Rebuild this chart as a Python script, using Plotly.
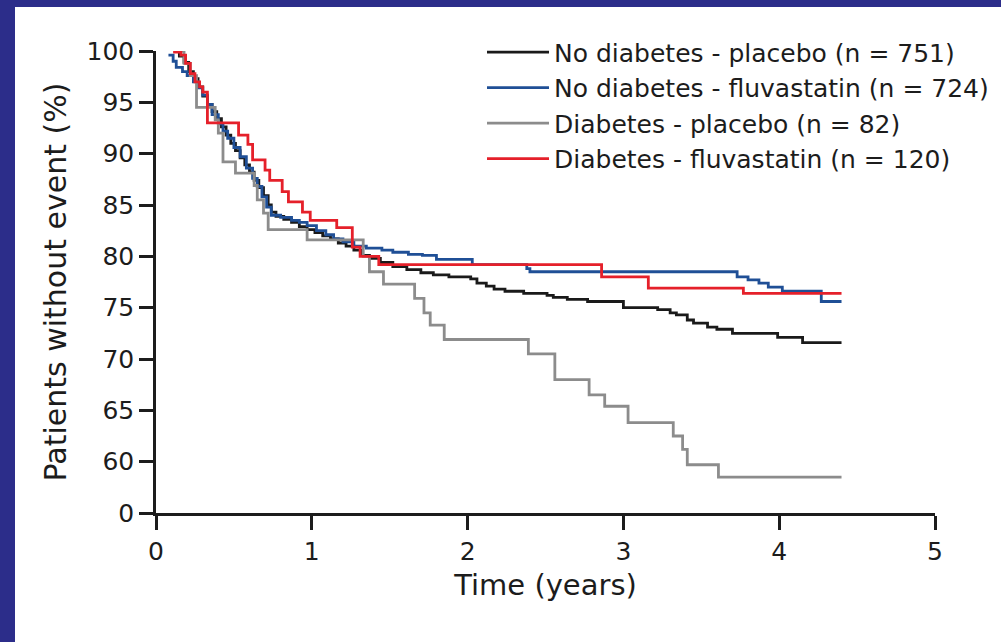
import plotly.graph_objects as go

# Kaplan-Meier estimates: time (years) and % of patients without event
nodm_placebo_t = [0.12, 0.15, 0.18, 0.21, 0.24, 0.27, 0.30, 0.33, 0.36, 0.39, 0.42, 0.45,
                  0.48, 0.51, 0.54, 0.57, 0.60, 0.63, 0.66, 0.69, 0.72, 0.74, 0.77, 0.82,
                  0.87, 0.92, 0.97, 1.02, 1.07, 1.12, 1.17, 1.22, 1.27, 1.32, 1.37, 1.44,
                  1.52, 1.61, 1.70, 1.78, 1.88, 2.02, 2.06, 2.12, 2.17, 2.24, 2.36, 2.51,
                  2.55, 2.64, 2.77, 3.00, 3.22, 3.30, 3.34, 3.41, 3.45, 3.54, 3.60, 3.70,
                  3.99, 4.15, 4.40]
nodm_placebo_s = [100.0, 99.5, 98.9, 98.0, 97.3, 96.5, 95.6, 94.8, 94.1, 93.4, 92.6, 91.8,
                  91.0, 90.3, 89.6, 88.9, 88.2, 87.4, 86.7, 85.9, 85.0, 84.3, 83.9, 83.6,
                  83.3, 82.9, 82.6, 82.3, 82.0, 81.7, 81.3, 81.0, 80.6, 80.1, 79.8, 79.4,
                  79.0, 78.7, 78.4, 78.2, 78.0, 77.8, 77.4, 77.1, 76.8, 76.6, 76.4, 76.2,
                  76.0, 75.8, 75.6, 75.0, 74.8, 74.5, 74.3, 73.8, 73.5, 73.1, 72.9, 72.5,
                  72.1, 71.6, 71.6]

nodm_fluva_t = [0.08, 0.11, 0.13, 0.17, 0.20, 0.24, 0.27, 0.30, 0.33, 0.36, 0.40, 0.43,
                0.46, 0.50, 0.54, 0.58, 0.62, 0.65, 0.68, 0.71, 0.74, 0.80, 0.87, 0.92,
                0.97, 1.03, 1.09, 1.14, 1.20, 1.27, 1.35, 1.45, 1.52, 1.62, 1.71, 1.80,
                2.03, 2.38, 2.40, 3.73, 3.80, 3.87, 3.93, 4.02, 4.27, 4.40]
nodm_fluva_s = [99.6, 99.0, 98.4, 98.0, 97.6, 97.0, 96.4, 95.7, 94.8, 93.8, 92.9, 92.2,
                91.5, 90.6, 89.7, 88.6, 87.6, 86.8, 85.8, 84.8, 84.0, 83.8, 83.5, 83.3,
                83.0, 82.5, 82.1, 81.7, 81.4, 81.0, 80.8, 80.6, 80.4, 80.2, 80.1, 79.7,
                79.2, 78.8, 78.5, 78.0, 77.7, 77.4, 77.0, 76.6, 75.6, 75.6]

dm_placebo_t = [0.12, 0.18, 0.22, 0.26, 0.38, 0.40, 0.43, 0.51, 0.63, 0.65, 0.69, 0.72,
                0.97, 1.33, 1.37, 1.46, 1.66, 1.72, 1.76, 1.85, 2.39, 2.56, 2.78, 2.88,
                3.03, 3.32, 3.38, 3.41, 3.61, 4.40]
dm_placebo_s = [100.0, 98.8, 97.6, 94.5, 93.3, 92.0, 89.2, 88.1, 86.9, 85.5, 84.2, 82.6,
                81.6, 80.0, 78.5, 77.3, 75.9, 74.5, 73.3, 71.9, 70.5, 68.0, 66.5, 65.4,
                63.8, 62.5, 61.2, 59.7, 58.5, 58.5]

dm_fluva_t = [0.11, 0.16, 0.19, 0.22, 0.25, 0.28, 0.30, 0.33, 0.53, 0.59, 0.62, 0.70,
              0.73, 0.81, 0.85, 0.94, 0.99, 1.16, 1.26, 1.31, 1.43, 2.86, 3.16, 3.77, 4.40]
dm_fluva_s = [99.9, 99.6, 98.8, 97.8, 97.0, 96.5, 96.0, 93.0, 91.8, 90.9, 89.4, 88.4,
              87.4, 86.3, 85.3, 84.3, 83.5, 82.8, 80.9, 80.0, 79.2, 78.0, 76.9, 76.4, 76.4]

series_names = ["No diabetes - placebo (n = 751)",
                "No diabetes - fluvastatin (n = 724)",
                "Diabetes - placebo (n = 82)",
                "Diabetes - fluvastatin (n = 120)"]
series_colors = ["#1a1a1a", "#1f4f96", "#8c8c8c", "#e5202a"]

# y axis is broken: the bottom tick (value 55 on the scale) is labelled 0
y_tickvals = [55, 60, 65, 70, 75, 80, 85, 90, 95, 100]
y_ticktext = ["0", "60", "65", "70", "75", "80", "85", "90", "95", "100"]
x_tickvals = [0, 1, 2, 3, 4, 5]

FONT = "DejaVu Sans"
INK = "#1c1c1c"

fig = go.Figure()
for t, s, name, color in zip(
        [nodm_placebo_t, nodm_fluva_t, dm_placebo_t, dm_fluva_t],
        [nodm_placebo_s, nodm_fluva_s, dm_placebo_s, dm_fluva_s],
        series_names, series_colors):
    fig.add_trace(go.Scatter(x=t, y=s, name=name, mode="lines",
                             line=dict(color=color, width=2.8, shape="hv")))

# white panel over the navy frame
fig.add_shape(type="rect", xref="paper", yref="paper",
              x0=-0.181, x1=1.2, y0=-0.4, y1=1.0951,
              fillcolor="white", line=dict(width=0), layer="below")

fig.update_layout(
    width=1001, height=642,
    margin=dict(l=156, r=66, t=51, b=128.5, autoexpand=False),
    paper_bgcolor="#2c2d8a",
    plot_bgcolor="white",
    font=dict(family=FONT, color=INK),
    showlegend=True,
    legend=dict(x=0.4185, xanchor="left", y=1.047, yanchor="top",
                font=dict(family=FONT, size=25, color=INK),
                bgcolor="rgba(0,0,0,0)", itemwidth=62, tracegroupgap=0),
    xaxis=dict(range=[0, 5], tickvals=x_tickvals, showgrid=False, zeroline=False,
               showline=True, linecolor=INK, linewidth=2.5,
               ticks="outside", ticklen=14, tickwidth=2.5, tickcolor=INK,
               tickfont=dict(family=FONT, size=25, color=INK),
               title=dict(text="Time (years)", standoff=10,
                          font=dict(family=FONT, size=29, color=INK))),
    yaxis=dict(range=[55, 100], tickvals=y_tickvals, ticktext=y_ticktext,
               showgrid=False, zeroline=False,
               showline=True, linecolor=INK, linewidth=2.5,
               ticks="outside", ticklen=14, tickwidth=2.5, tickcolor=INK,
               tickfont=dict(family=FONT, size=25, color=INK),
               title=dict(text="Patients without event (%)", standoff=12,
                          font=dict(family=FONT, size=30, color=INK))),
)

fig.write_html("out.html")
